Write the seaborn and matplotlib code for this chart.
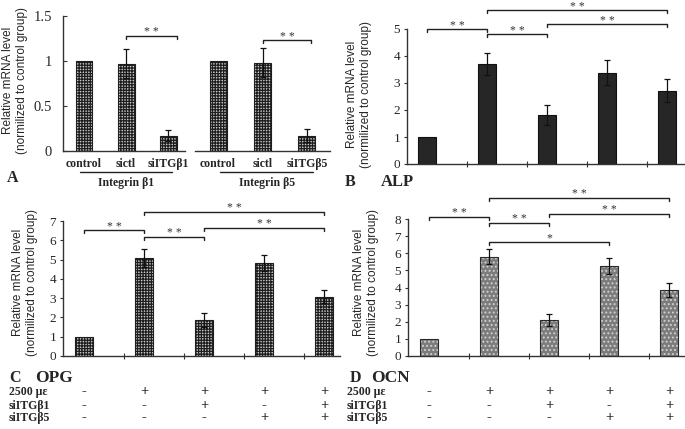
import numpy as np
import seaborn as sns
import matplotlib.pyplot as plt
from matplotlib.transforms import blended_transform_factory as blend

# panel A: knockdown efficiency
a1_groups = ['control', 'sictl', 'siITGβ1']
a1_vals = [1.0, 0.97, 0.17]
a1_err = [0.0, 0.16, 0.06]
a2_groups = ['control', 'sictl', 'siITGβ5']
a2_vals = [1.0, 0.98, 0.17]
a2_err = [0.0, 0.16, 0.07]

# panels B-D: five treatment conditions
conds = ['ctrl', 'strain', 'strain+siB1', 'strain+siB5', 'strain+siB1+siB5']
alp = [1.0, 3.70, 1.82, 3.38, 2.71]
alp_err = [0.0, 0.40, 0.38, 0.46, 0.42]
opg = [1.0, 5.10, 1.88, 4.82, 3.08]
opg_err = [0.0, 0.46, 0.37, 0.40, 0.34]
ocn = [1.0, 5.80, 2.10, 5.25, 3.87]
ocn_err = [0.0, 0.42, 0.36, 0.45, 0.41]

row_names = ['2500 με', 'siITGβ1', 'siITGβ5']
strain = ['-', '+', '+', '+', '+']
si_b1 = ['-', '-', '+', '-', '+']
si_b5 = ['-', '-', '-', '+', '+']

# significance brackets (from, to, height, mark)
alp_sig = [(0, 1, 5.0, '**'), (1, 2, 4.8, '**'), (2, 4, 5.17, '**'), (1, 4, 5.7, '**')]
opg_sig = [(0, 1, 6.53, '**'), (1, 2, 6.18, '**'), (2, 4, 6.66, '**'), (1, 4, 7.48, '**')]
ocn_sig = [(0, 1, 8.13, '**'), (1, 2, 7.78, '**'), (1, 3, 6.65, '*'), (2, 4, 8.3, '**'), (1, 4, 9.24, '**')]

sns.set_style('ticks')
plt.rcParams['font.family'] = ['Liberation Serif', 'DejaVu Serif']
plt.rcParams['hatch.linewidth'] = 0.9

W, H = 685, 429
fig = plt.figure(figsize=(6.85, 4.29), dpi=100)

def box(l, t, r, b):
    return [l / W, 1 - b / H, (r - l) / W, (b - t) / H]

SPINE = '#333333'
ylab = 'Relative mRNA level\n(normilized to control group)'

def style(ax, top, yticks, inward=False, size=9.5):
    ax.set_ylim(0, top)
    ax.set_yticks(yticks)
    ax.set_yticklabels([f'{t:g}' for t in yticks], fontsize=size)
    for s in ['top', 'right']:
        ax.spines[s].set_visible(False)
    for s in ['left', 'bottom']:
        ax.spines[s].set_color(SPINE)
        ax.spines[s].set_linewidth(1.0)
    if inward:
        ax.tick_params(axis='y', direction='in', length=3, pad=8, color=SPINE)
    else:
        ax.tick_params(axis='y', direction='out', length=2.5, pad=2.5, color=SPINE)
    ax.set_xlabel('')
    ax.set_ylabel('')

def errs(ax, vals, err):
    idx = [i for i, e in enumerate(err) if e > 0]
    ax.errorbar(idx, [vals[i] for i in idx], yerr=[err[i] for i in idx], fmt='none',
                ecolor='#111111', elinewidth=0.9, capsize=2.2, capthick=0.9)

def brackets(ax, sigs, top):
    d = top * 0.022
    for x1, x2, y, mark in sigs:
        ax.plot([x1, x1, x2, x2], [y - d, y, y, y - d], color='#222222', lw=1.0, clip_on=False)
        ax.text((x1 + x2) / 2, y + d * 0.15, ' '.join(mark), ha='center', va='baseline',
                fontsize=8.5, color='#333333')

def grid_bars(ax):
    for p in ax.patches:
        p.set_facecolor('#c8c8c8')
        p.set_edgecolor('#1e1e1e')
        p.set_hatch('++++++')
        p.set_linewidth(0.8)

def ylabel_at(x, y):
    fig.text(x / W, 1 - y / H, ylab, rotation=90, ha='center', va='center',
             family=['Liberation Sans', 'DejaVu Sans'], fontsize=8.5, linespacing=1.2)

# ---- A ----
axA1 = fig.add_axes(box(63, 16, 185, 151))
sns.barplot(x=a1_groups, y=a1_vals, ax=axA1, width=0.4, errorbar=None, color='white')
grid_bars(axA1)
errs(axA1, a1_vals, a1_err)
style(axA1, 1.5, [0, 0.5, 1, 1.5], inward=True, size=10.5)
axA1.set_xlim(-0.5, 2.4)
axA1.tick_params(axis='x', length=0, pad=5)
axA1.set_xticks(range(3))
axA1.set_xticklabels(a1_groups, fontsize=8.5, fontweight='bold')
brackets(axA1, [(1, 2.2, 1.28, '**')], 1.5)

axA2 = fig.add_axes(box(195, 16, 330, 151))
sns.barplot(x=a2_groups, y=a2_vals, ax=axA2, width=0.38, errorbar=None, color='white')
grid_bars(axA2)
errs(axA2, a2_vals, a2_err)
style(axA2, 1.5, [0, 0.5, 1, 1.5], inward=True, size=10.5)
axA2.spines['left'].set_visible(False)
axA2.set_yticks([])
axA2.set_xlim(-0.52, 2.52)
axA2.tick_params(axis='x', length=0, pad=5)
axA2.set_xticks(range(3))
axA2.set_xticklabels(a2_groups, fontsize=8.5, fontweight='bold')
brackets(axA2, [(1, 2.1, 1.23, '**')], 1.5)

for ax, x1, x2, name in [(axA1, -0.1, 2.1, 'Integrin β1'), (axA2, 0.05, 2.14, 'Integrin β5')]:
    tr = blend(ax.transData, fig.transFigure)
    ax.plot([x1, x2], [1 - 172 / H] * 2, color='#222222', lw=1.0, transform=tr, clip_on=False)
    ax.text((x1 + x2) / 2, 1 - 183 / H, name, transform=tr, ha='center', va='center',
            fontsize=8.5, fontweight='bold')

fig.text(13 / W, 1 - 178 / H, 'A', ha='center', va='center', fontsize=11.5, fontweight='bold')
ylabel_at(15, 80)

# ---- B ----
axB = fig.add_axes(box(407, 29, 685, 164))
sns.barplot(x=conds, y=alp, ax=axB, width=0.3, errorbar=None, color='#262626',
            edgecolor='#111111', linewidth=0.8)
errs(axB, alp, alp_err)
style(axB, 5, range(6))
brackets(axB, alp_sig, 5)
fig.text(350 / W, 1 - 182 / H, 'B', ha='center', va='center', fontsize=11.5, fontweight='bold')
fig.text(397 / W, 1 - 182 / H, 'ALP', ha='center', va='center', fontsize=12, fontweight='bold')
ylabel_at(359, 94)

# ---- C ----
axC = fig.add_axes(box(63, 221, 340, 356))
sns.barplot(x=conds, y=opg, ax=axC, width=0.3, errorbar=None, color='white')
grid_bars(axC)
errs(axC, opg, opg_err)
style(axC, 7, range(8))
brackets(axC, opg_sig, 7)
fig.text(15 / W, 1 - 378 / H, 'C', ha='center', va='center', fontsize=11.5, fontweight='bold')
fig.text(54 / W, 1 - 378 / H, 'OPG', ha='center', va='center', fontsize=12.5, fontweight='bold')
ylabel_at(25, 282)

# ---- D ----
axD = fig.add_axes(box(408, 219, 685, 356))
sns.barplot(x=conds, y=ocn, ax=axD, width=0.3, errorbar=None, color='#7c7c7c')
for p in axD.patches:
    p.set_edgecolor('#d0d0d0')
    p.set_hatch('....')
    p.set_linewidth(0)
sns.barplot(x=conds, y=ocn, ax=axD, width=0.3, errorbar=None, fill=False, color='#2a2a2a',
            linewidth=0.8)
errs(axD, ocn, ocn_err)
style(axD, 8, range(9))
brackets(axD, ocn_sig, 8)
fig.text(355 / W, 1 - 378 / H, 'D', ha='center', va='center', fontsize=11.5, fontweight='bold')
fig.text(390 / W, 1 - 378 / H, 'OCN', ha='center', va='center', fontsize=12.5, fontweight='bold')
ylabel_at(366, 282)

for ax, left in [(axB, -1 / 3), (axC, -0.35), (axD, -0.35)]:
    right = left + (ax.get_position().width * W) / 60
    ax.set_xlim(left, right)
    ax.set_xticks(np.arange(4) + 2 / 3)
    ax.set_xticklabels([])
    ax.tick_params(axis='x', direction='inout', length=4, color=SPINE)

# treatment table under C and D
for ax, x0 in [(axC, 9), (axD, 347)]:
    tr = blend(ax.transData, fig.transFigure)
    for row, name, signs in zip([392, 406, 418], row_names, [strain, si_b1, si_b5]):
        fig.text(x0 / W, 1 - row / H, name, ha='left', va='center', fontsize=8.5,
                 fontweight='bold')
        for i, s in enumerate(signs):
            ax.text(i, 1 - row / H, s, transform=tr, ha='center', va='center', fontsize=10.5,
                    fontweight='bold', clip_on=False)

fig.savefig('out.png', dpi=100)
